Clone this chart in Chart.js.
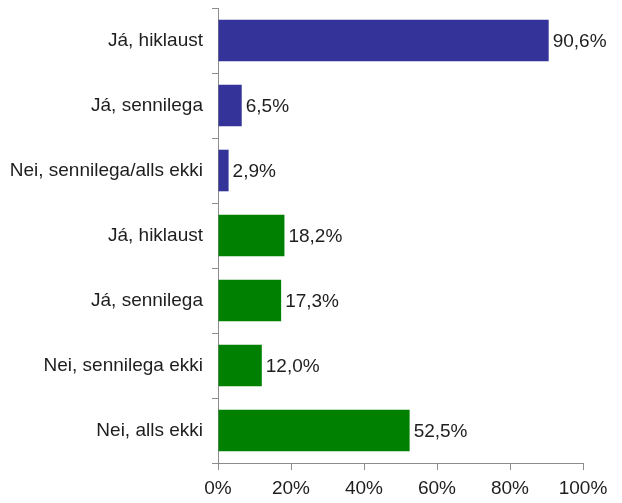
<!DOCTYPE html>
<html>
<head>
<meta charset="utf-8">
<script src="https://cdn.jsdelivr.net/npm/chart.js@4"></script>
<style>
  html, body { margin: 0; padding: 0; background: #fff; }
  #wrap { width: 622px; height: 503px; }
</style>
</head>
<body>
<div id="wrap"><canvas id="chart" width="622" height="503"></canvas></div>
<script>
// Categories (top to bottom) and values in percent
const categories = [
  "Já, hiklaust",
  "Já, sennilega",
  "Nei, sennilega/alls ekki",
  "Já, hiklaust",
  "Já, sennilega",
  "Nei, sennilega ekki",
  "Nei, alls ekki",
]
const values = [90.6, 6.5, 2.9, 18.2, 17.3, 12.0, 52.5]
const groups = [0, 0, 0, 1, 1, 1, 1]
const groupColors = ["#333399", "#008000"]
const xTicks = [0, 20, 40, 60, 80, 100]

const FONT = "'Liberation Sans Narrow', 'Arial Narrow', 'Liberation Sans', sans-serif"
const TEXT = "#1e1e1e"
const AXIS = "#8c8c8c"

// Draws the value labels to the right of each bar
const valueLabels = {
  id: "valueLabels",
  afterDatasetsDraw(chart) {
    const ctx = chart.ctx
    const meta = chart.getDatasetMeta(0)
    ctx.save()
    ctx.font = "19px " + FONT
    ctx.fillStyle = TEXT
    ctx.textAlign = "left"
    ctx.textBaseline = "middle"
    meta.data.forEach((bar, i) => {
      const txt = values[i].toFixed(1).replace(".", ",") + "%"
      ctx.fillText(txt, bar.x + 4, bar.y + 1)
    })
    ctx.restore()
  },
}

new Chart(document.getElementById("chart"), {
  type: "bar",
  data: {
    labels: categories,
    datasets: [
      {
        data: values,
        backgroundColor: groups.map((g) => groupColors[g]),
        categoryPercentage: 1,
        barPercentage: 0.64,
      },
    ],
  },
  options: {
    indexAxis: "y",
    responsive: false,
    animation: false,
    layout: { padding: { top: 8, right: 39, left: 0, bottom: 0 } },
    plugins: {
      legend: { display: false },
      tooltip: { enabled: false },
    },
    scales: {
      x: {
        min: 0,
        max: 100,
        afterBuildTicks: (scale) => {
          scale.ticks = xTicks.map((v) => ({ value: v }))
        },
        afterFit: (scale) => {
          scale.height = 40
          scale.paddingLeft = 0
          scale.paddingRight = 0
        },
        grid: {
          drawOnChartArea: false,
          color: AXIS,
          tickLength: 7,
        },
        border: { color: AXIS },
        ticks: {
          color: TEXT,
          font: { family: FONT, size: 19 },
          padding: 7,
          callback: (v) => v + "%",
        },
      },
      y: {
        afterFit: (scale) => {
          scale.width = 218
          scale.paddingTop = 0
          scale.paddingBottom = 0
        },
        grid: {
          drawOnChartArea: false,
          color: AXIS,
          tickLength: 6,
          offset: true,
        },
        border: { color: AXIS },
        ticks: {
          color: TEXT,
          font: { family: FONT, size: 19 },
          padding: 9,
        },
      },
    },
  },
  plugins: [valueLabels],
})
</script>
</body>
</html>
